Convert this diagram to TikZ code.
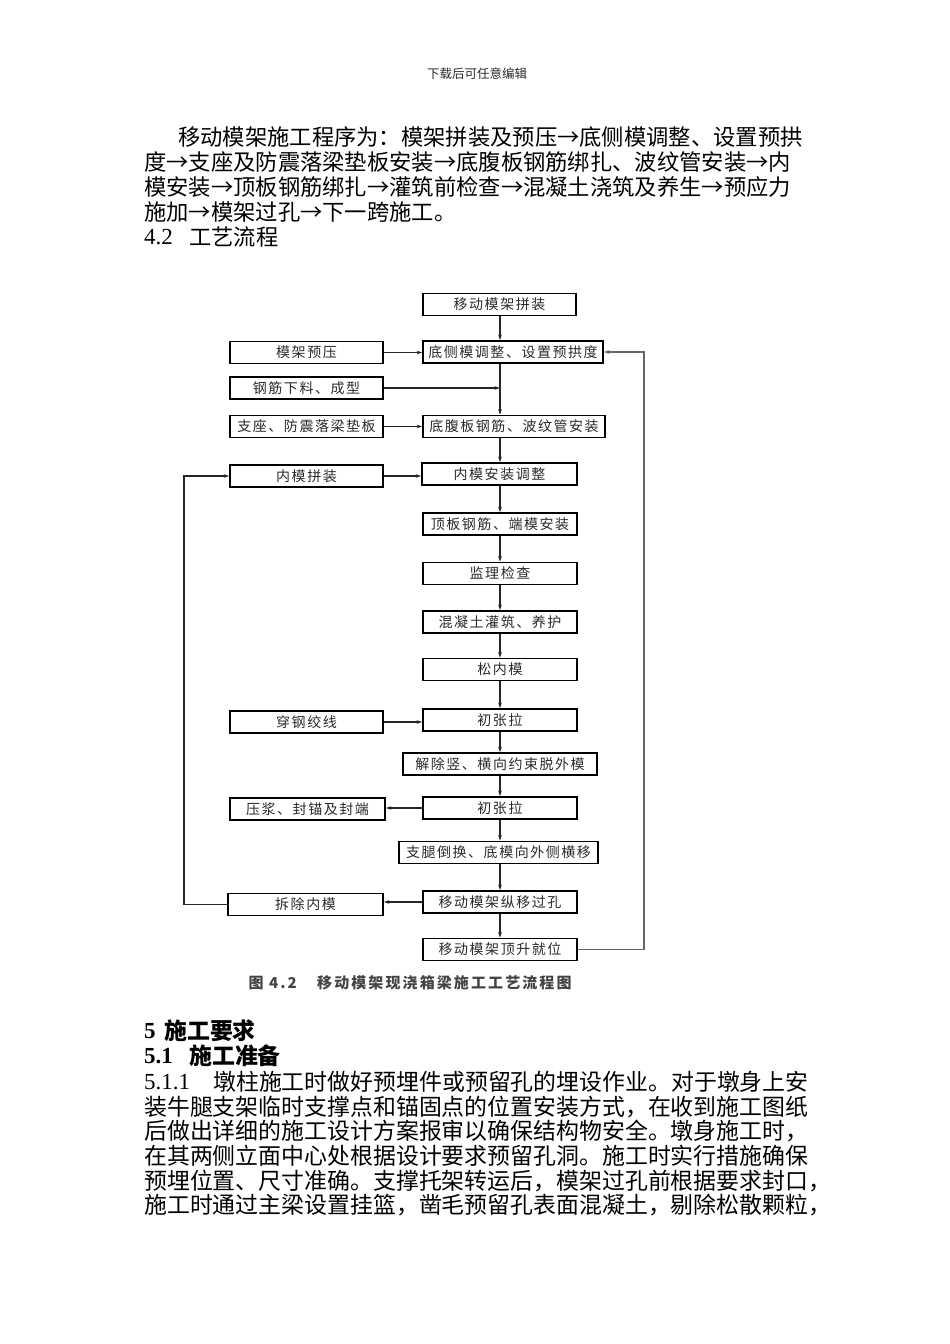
\documentclass[tikz,border=0pt]{standalone}
\usepackage{fontspec}
\setmainfont{Noto Sans CJK SC}
\newfontfamily\boxfont[LetterSpace=11]{Noto Sans CJK SC}
\newfontfamily\capfont[LetterSpace=14]{Noto Sans CJK SC}
\newfontfamily\digitfont{Liberation Serif}
\usetikzlibrary{arrows.meta}
\definecolor{boxtext}{HTML}{2A2A2A}
\definecolor{captext}{HTML}{444444}
\begin{document}
\begin{tikzpicture}[x=1pt,y=-1pt,
  flowbox/.style={draw=black, line width=1.6pt, inner sep=0pt, minimum height=22pt,
    font=\boxfont\fontsize{14}{14}\selectfont, text=boxtext},
  conn/.style={line width=1.2pt, draw=black!85},
  arr/.style={conn, -{Stealth[length=5.5pt,width=3.5pt]}},
  txttop/.style={anchor=west, inner sep=0pt, font=\fontsize{22.3}{25}\selectfont},
  txtbot/.style={anchor=west, inner sep=0pt, font=\fontsize{22.9}{25}\selectfont},
  txtdig/.style={anchor=west, inner sep=0pt, font=\digitfont\fontsize{23}{25}\selectfont},
  txthead/.style={anchor=west, inner sep=0pt, font=\bfseries\fontsize{22.9}{25}\selectfont},
  captxt/.style={inner sep=0pt, text=captext, font=\capfont\bfseries\fontsize{15}{15}\selectfont}
]
\useasboundingbox (0,0) rectangle (950,1344);
\fill[white] (0,0) rectangle (950,1344);

% header
\node[inner sep=0pt, text=boxtext, font=\fontsize{12.5}{13}\selectfont] (hdr) at (477,74) {下载后可任意编辑};

% top paragraph
\node[txttop] (t1) at (178,137) {移动模架施工程序为：模架拼装及预压→底侧模调整、设置预拱};
\node[txttop] (t2) at (144,162) {度→支座及防震落梁垫板安装→底腹板钢筋绑扎、波纹管安装→内};
\node[txttop] (t3) at (144,187) {模安装→顶板钢筋绑扎→灌筑前检查→混凝土浇筑及养生→预应力};
\node[txttop] (t4) at (144,212) {施加→模架过孔→下一跨施工。};
\node[txtdig] (t5a) at (144,237) {4.2};
\node[txttop] (t5b) at (189,237) {工艺流程};

% flowchart boxes
\node[flowbox, minimum width=153pt] (b1) at (499.5,304.5) {移动模架拼装};
\node[flowbox, minimum width=180pt] (b2) at (513,352) {底侧模调整、设置预拱度};
\node[flowbox, minimum width=153pt] (l1) at (306.5,352.5) {模架预压};
\node[flowbox, minimum width=153pt] (l2) at (306.5,388) {钢筋下料、成型};
\node[flowbox, minimum width=153pt] (l3) at (306.5,426.5) {支座、防震落梁垫板};
\node[flowbox, minimum width=182pt] (b3) at (514,426.5) {底腹板钢筋、波纹管安装};
\node[flowbox, minimum width=153pt] (l4) at (306.5,476) {内模拼装};
\node[flowbox, minimum width=155pt] (b4) at (499.5,474) {内模安装调整};
\node[flowbox, minimum width=154pt] (b5) at (500,524) {顶板钢筋、端模安装};
\node[flowbox, minimum width=154pt] (b6) at (500,573.5) {监理检查};
\node[flowbox, minimum width=154pt] (b7) at (500,622) {混凝土灌筑、养护};
\node[flowbox, minimum width=154pt] (b8) at (500,669.5) {松内模};
\node[flowbox, minimum width=153pt] (l5) at (306.5,722) {穿钢绞线};
\node[flowbox, minimum width=154pt] (b9) at (500,720) {初张拉};
\node[flowbox, minimum width=194pt] (b10) at (500,764) {解除竖、横向约束脱外模};
\node[flowbox, minimum width=155pt] (l6) at (307.5,809) {压浆、封锚及封端};
\node[flowbox, minimum width=154pt] (b11) at (500,808) {初张拉};
\node[flowbox, minimum width=199pt] (b12) at (498.5,852.5) {支腿倒换、底模向外侧横移};
\node[flowbox, minimum width=155pt] (l7) at (305.5,904.5) {拆除内模};
\node[flowbox, minimum width=154pt] (b13) at (500,902) {移动模架纵移过孔};
\node[flowbox, minimum width=154pt] (b14) at (500,949.5) {移动模架顶升就位};

\coordinate (colx) at (500,0);
\coordinate (leftx) at (184,0);
\coordinate (rightx) at (644,0);

% main flow
\draw[arr] (b1.south -| colx) -- (b2.north -| colx);
\draw[arr] (b2.south -| colx) -- (b3.north -| colx);
\draw[arr] (b3.south -| colx) -- (b4.north -| colx);
\draw[arr] (b4.south -| colx) -- (b5.north -| colx);
\draw[arr] (b5.south -| colx) -- (b6.north -| colx);
\draw[arr] (b6.south -| colx) -- (b7.north -| colx);
\draw[arr] (b7.south -| colx) -- (b8.north -| colx);
\draw[arr] (b8.south -| colx) -- (b9.north -| colx);
\draw[arr] (b9.south -| colx) -- (b10.north -| colx);
\draw[arr] (b10.south -| colx) -- (b11.north -| colx);
\draw[arr] (b11.south -| colx) -- (b12.north -| colx);
\draw[arr] (b12.south -| colx) -- (b13.north -| colx);
\draw[arr] (b13.south -| colx) -- (b14.north -| colx);

% side inputs
\draw[arr] (l1.east) -- (l1.east -| b2.west);
\draw[arr] (l2.east) -- (l2.east -| colx);
\draw[arr] (l3.east) -- (l3.east -| b3.west);
\draw[arr] (l4.east) -- (l4.east -| b4.west);
\draw[arr] (l5.east) -- (l5.east -| b9.west);
\draw[arr] (b11.west) -- (b11.west -| l6.east);
\draw[arr] (b13.west) -- (b13.west -| l7.east);

% loops
\draw[arr] (l7.west) -- (l7.west -| leftx) |- (l4.west);
\draw[arr, draw=black!60] (b14.east) -- (b14.east -| rightx) |- (b2.east);

% caption
\node[captxt] (c1) at (256,983) {图};
\node[captxt] (c2) at (283,983) {4.2};
\node[captxt, anchor=west] (c3) at (317,983) {移动模架现浇箱梁施工工艺流程图};

% section 5
\node[txtdig, font=\digitfont\bfseries\fontsize{23}{25}\selectfont] (h1a) at (144,1031) {5};
\node[txthead] (h1b) at (164,1031) {施工要求};
\node[txtdig, font=\digitfont\bfseries\fontsize{23}{25}\selectfont] (h2a) at (144,1056) {5.1};
\node[txthead] (h2b) at (189,1056) {施工准备};
\node[txtdig] (p1a) at (144,1082) {5.1.1};
\node[txtbot] (p1b) at (213,1082) {墩柱施工时做好预埋件或预留孔的埋设作业。对于墩身上安};
\node[txtbot] (p2) at (144,1107) {装牛腿支架临时支撑点和锚固点的位置安装方式，在收到施工图纸};
\node[txtbot] (p3) at (144,1131) {后做出详细的施工设计方案报审以确保结构物安全。墩身施工时，};
\node[txtbot] (p4) at (144,1156) {在其两侧立面中心处根据设计要求预留孔洞。施工时实行措施确保};
\node[txtbot] (p5) at (144,1181) {预埋位置、尺寸准确。支撑托架转运后，模架过孔前根据要求封口，};
\node[txtbot] (p6) at (144,1205) {施工时通过主梁设置挂篮，凿毛预留孔表面混凝土，剔除松散颗粒，};
\end{tikzpicture}
\end{document}
